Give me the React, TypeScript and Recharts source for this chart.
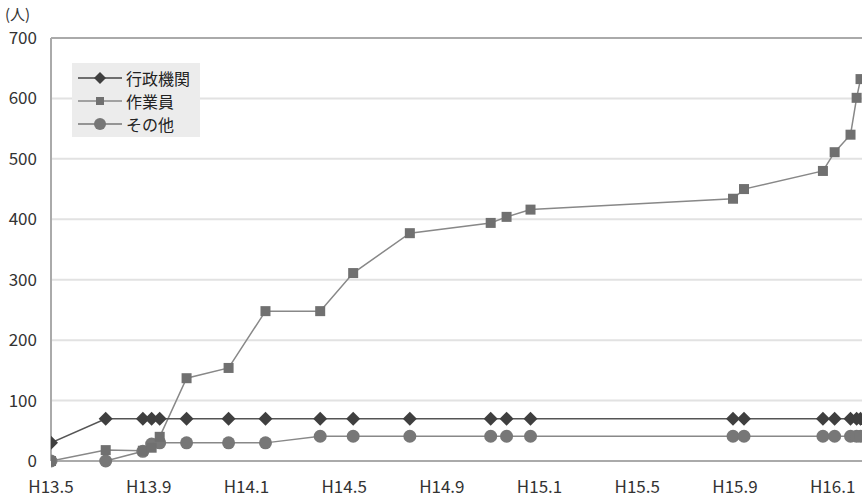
import { CartesianGrid, Line, LineChart, ReferenceLine, XAxis, YAxis } from 'recharts';

// months counted from H13.5
const months = [0, 2.24, 3.76, 4.12, 4.45, 5.55, 7.27, 8.78, 11.02, 12.37, 14.69, 18.0, 18.65, 19.63, 27.92, 28.37, 31.6, 32.08, 32.73, 32.98, 33.14];
const gyosei = [30, 70, 70, 70, 70, 70, 70, 70, 70, 70, 70, 70, 70, 70, 70, 70, 70, 70, 70, 70, 70];
const sagyoin = [0, 18, 17, 22, 40, 137, 154, 248, 248, 311, 377, 394, 404, 416, 434, 450, 480, 511, 540, 601, 632];
const sonota = [0, 0, 16, 28, 30, 30, 30, 30, 41, 41, 41, 41, 41, 41, 41, 41, 41, 41, 41, 41, 41];

const tickPos = [0, 4, 8, 12, 16, 20, 24, 28, 32];
const tickLabels = ['H13.5', 'H13.9', 'H14.1', 'H14.5', 'H14.9', 'H15.1', 'H15.5', 'H15.9', 'H16.1'];

const data = months.map((m, i) => ({ m, gyosei: gyosei[i], sagyoin: sagyoin[i], sonota: sonota[i] }));

const FONT = '"Noto Sans CJK JP", "Liberation Sans", sans-serif';

const diamond = (p: any) => (
  <path
    key={`g-${p.index}`}
    d={`M${p.cx},${p.cy - 7}L${p.cx + 7},${p.cy}L${p.cx},${p.cy + 7}L${p.cx - 7},${p.cy}Z`}
    fill="#3f3f3f"
  />
);
const square = (p: any) => (
  <rect key={`s-${p.index}`} x={p.cx - 5} y={p.cy - 5} width={10} height={10} fill="#707070" />
);
const circle = (p: any) => <circle key={`c-${p.index}`} cx={p.cx} cy={p.cy} r={6.5} fill="#777" />;

const legendItems = [
  { name: '行政機関', color: '#444', shape: 'diamond' },
  { name: '作業員', color: '#888', shape: 'square' },
  { name: 'その他', color: '#777', shape: 'circle' },
];

const LegendBox = () => (
  <div
    style={{
      position: 'absolute',
      left: 72,
      top: 63,
      width: 128,
      height: 74,
      boxSizing: 'border-box',
      background: '#ececec',
      padding: '3px 0 0 6px',
      fontFamily: FONT,
      fontSize: 16,
      lineHeight: 1,
      color: '#222',
    }}
  >
    {legendItems.map((it) => (
      <div key={it.name} style={{ display: 'flex', alignItems: 'center', height: 23 }}>
        <svg width={44} height={16}>
          <line x1={0} y1={8} x2={44} y2={8} stroke={it.color} strokeWidth={1.5} />
          {it.shape === 'diamond' && <path d="M22,2L28,8L22,14L16,8Z" fill="#3f3f3f" />}
          {it.shape === 'square' && <rect x={18} y={4} width={8} height={8} fill="#707070" />}
          {it.shape === 'circle' && <circle cx={22} cy={8} r={6} fill="#777" />}
        </svg>
        <span style={{ marginLeft: 4 }}>{it.name}</span>
      </div>
    ))}
  </div>
);

export default function App() {
  return (
    <div style={{ position: 'absolute', left: 0, top: 0, width: 862, height: 498, background: '#fff' }}>
      <LineChart width={862} height={498} data={data} margin={{ top: 38, right: 0, left: 0, bottom: 0 }}>
        <CartesianGrid vertical={false} stroke="#e2e2e2" strokeWidth={2} />
        <XAxis
          type="number"
          dataKey="m"
          domain={[0, 33.2]}
          allowDataOverflow
          ticks={tickPos}
          tickFormatter={(v: number) => tickLabels[tickPos.indexOf(v)] ?? ''}
          height={37}
          tickSize={0}
          tickMargin={20}
          axisLine={{ stroke: '#aaa', strokeWidth: 2 }}
          tick={{ fill: '#333', fontSize: 17, fontFamily: FONT }}
        />
        <YAxis
          domain={[0, 700]}
          ticks={[0, 100, 200, 300, 400, 500, 600, 700]}
          width={51}
          tickSize={0}
          tickMargin={14}
          axisLine={{ stroke: '#aaa', strokeWidth: 2 }}
          tick={{ fill: '#333', fontSize: 17, fontFamily: FONT }}
        />
        <ReferenceLine y={700} stroke="#aaa" strokeWidth={2} />
        <Line dataKey="sonota" name="その他" stroke="#888" strokeWidth={1.5} dot={circle} isAnimationActive={false} />
        <Line dataKey="sagyoin" name="作業員" stroke="#888" strokeWidth={1.5} dot={square} isAnimationActive={false} />
        <Line dataKey="gyosei" name="行政機関" stroke="#555" strokeWidth={1.5} dot={diamond} isAnimationActive={false} />
      </LineChart>
      <div style={{ position: 'absolute', left: 5, top: 6, fontFamily: FONT, fontSize: 15, lineHeight: 1, color: '#333' }}>
        (人)
      </div>
      <LegendBox />
    </div>
  );
}
